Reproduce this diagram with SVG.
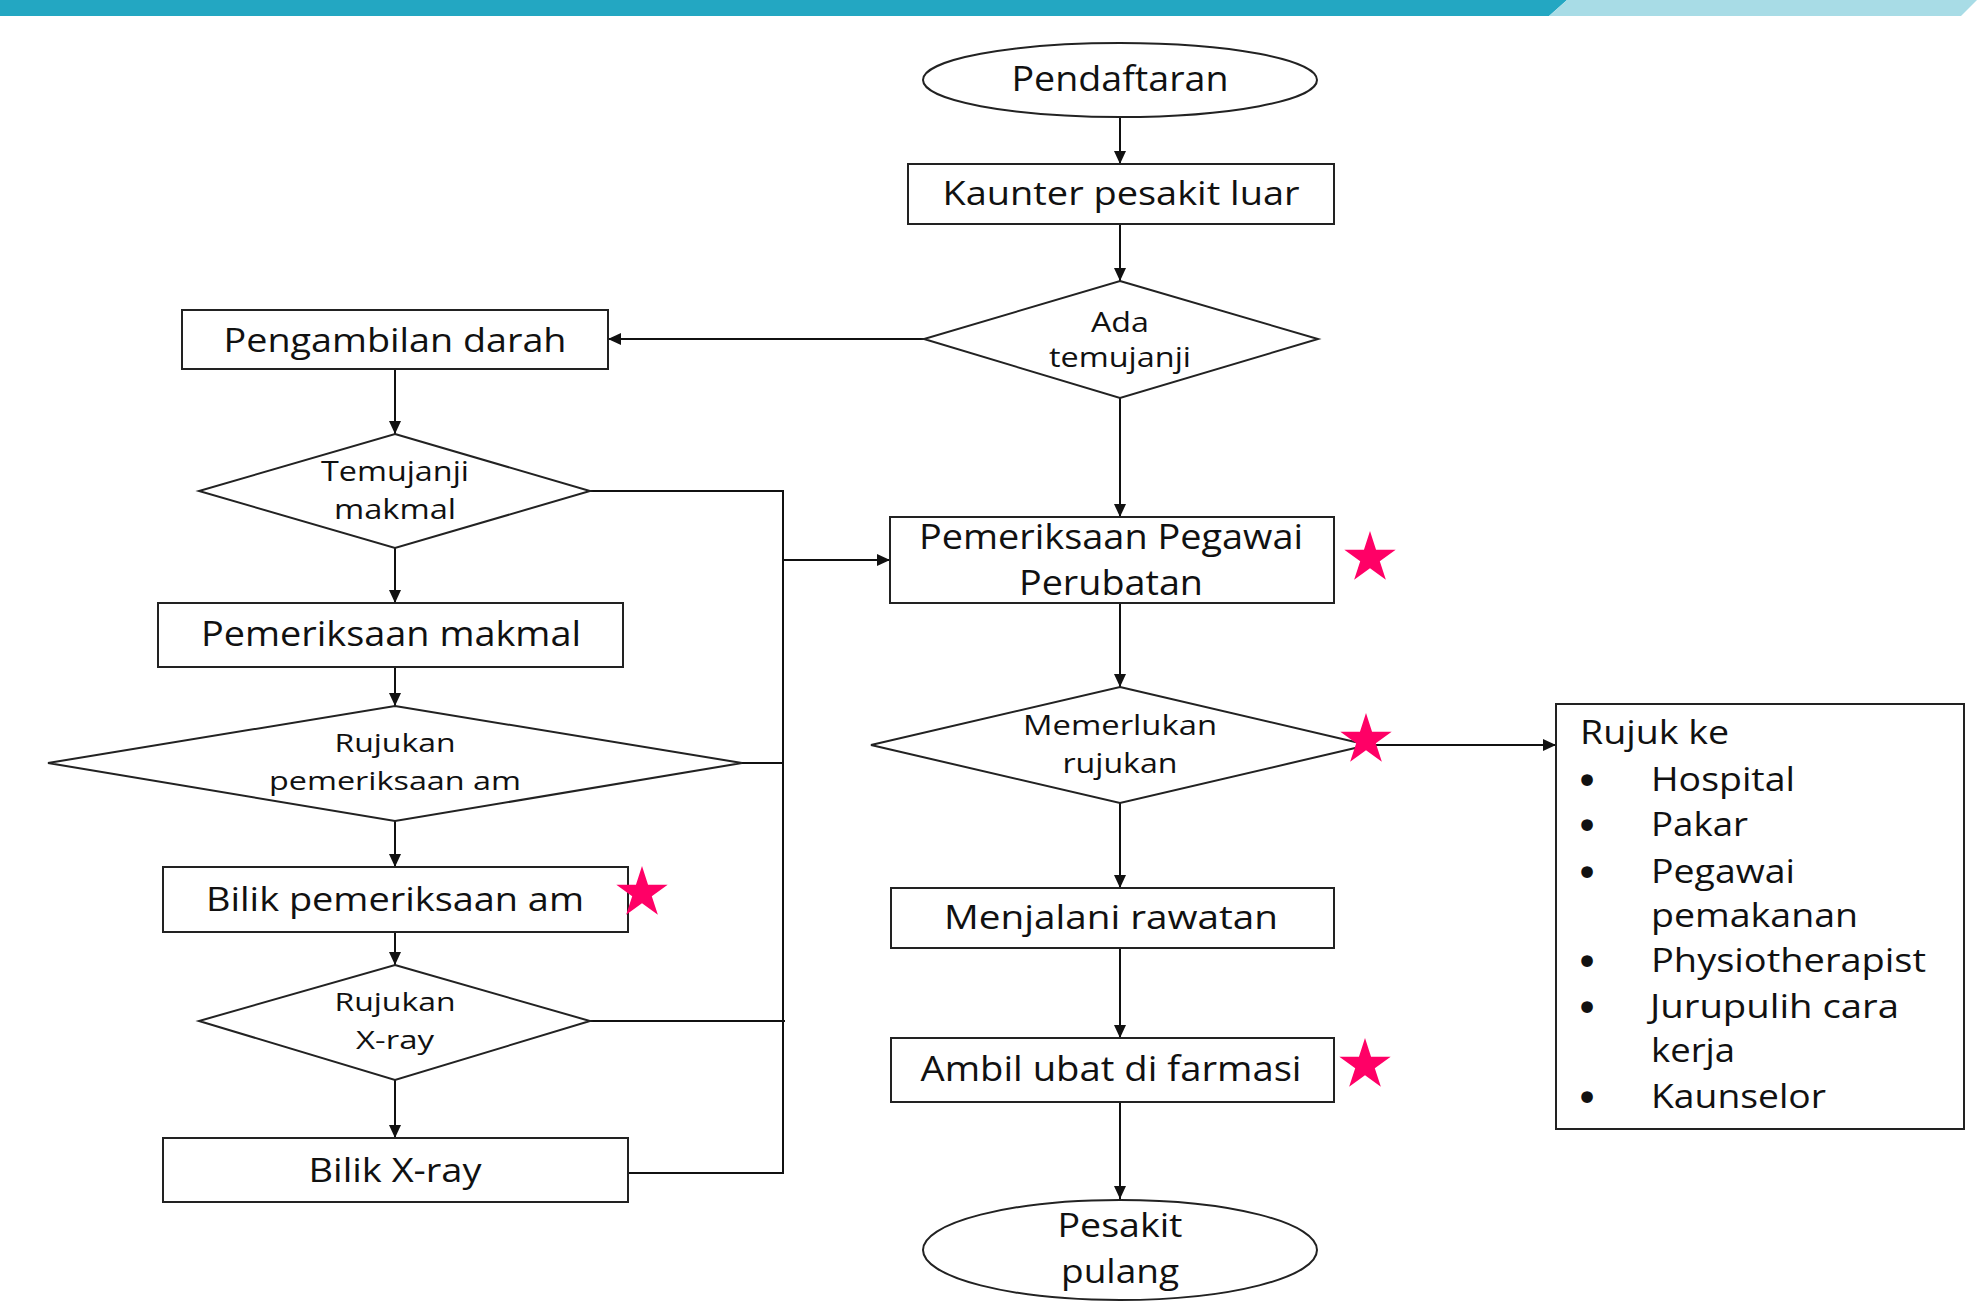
<svg xmlns="http://www.w3.org/2000/svg" xmlns:xlink="http://www.w3.org/1999/xlink" width="1977" height="1303" viewBox="0 0 1977 1303">
<style>
.shape{fill:#fff;stroke:#222;stroke-width:2}
.conn{fill:none;stroke:#111;stroke-width:2}
.t{font-family:"Open Sans","Noto Sans","DejaVu Sans",sans-serif;fill:#111;text-anchor:middle}
.tl{font-family:"Open Sans","Noto Sans","DejaVu Sans",sans-serif;fill:#111}
.b{font-family:"DejaVu Sans","Open Sans",sans-serif;fill:#111;text-anchor:middle;font-size:40px}
.star{fill:#FF0066}
</style>
<defs>
<marker id="ah" markerUnits="userSpaceOnUse" markerWidth="13" markerHeight="12" refX="13" refY="6" orient="auto">
<path d="M0,0 L13,6 L0,12 z" fill="#111"/>
</marker>
<polygon id="star" class="star" points="0,-27 6.05,-8.33 25.68,-8.34 9.8,3.18 15.87,21.84 0,10.3 -15.87,21.84 -9.8,3.18 -25.68,-8.34 -6.05,-8.33"/>
</defs>
<rect width="1977" height="1303" fill="#fff"/>
<g id="topbar">
<polygon points="0,0 1567,0 1549,16 0,16" fill="#23A7C2"/>
<polygon points="1567,0 1977,0 1961,16 1549,16" fill="#A8DCE6"/>
</g>
<g id="connectors">
<line class="conn" x1="1120" y1="117" x2="1120" y2="164" marker-end="url(#ah)"/>
<line class="conn" x1="1120" y1="224" x2="1120" y2="281" marker-end="url(#ah)"/>
<line class="conn" x1="924" y1="339" x2="608" y2="339" marker-end="url(#ah)"/>
<line class="conn" x1="1120" y1="398" x2="1120" y2="517" marker-end="url(#ah)"/>
<line class="conn" x1="395" y1="369" x2="395" y2="434" marker-end="url(#ah)"/>
<line class="conn" x1="395" y1="548" x2="395" y2="603" marker-end="url(#ah)"/>
<line class="conn" x1="395" y1="667" x2="395" y2="706" marker-end="url(#ah)"/>
<line class="conn" x1="395" y1="821" x2="395" y2="867" marker-end="url(#ah)"/>
<line class="conn" x1="395" y1="932" x2="395" y2="965" marker-end="url(#ah)"/>
<line class="conn" x1="395" y1="1080" x2="395" y2="1138" marker-end="url(#ah)"/>
<polyline class="conn" points="590,491 783,491 783,1173 628,1173"/>
<line class="conn" x1="742" y1="763" x2="783" y2="763"/>
<line class="conn" x1="590" y1="1021" x2="785" y2="1021"/>
<line class="conn" x1="783" y1="560" x2="890" y2="560" marker-end="url(#ah)"/>
<line class="conn" x1="1120" y1="603" x2="1120" y2="687" marker-end="url(#ah)"/>
<line class="conn" x1="1368" y1="745" x2="1556" y2="745" marker-end="url(#ah)"/>
<line class="conn" x1="1120" y1="803" x2="1120" y2="888" marker-end="url(#ah)"/>
<line class="conn" x1="1120" y1="948" x2="1120" y2="1038" marker-end="url(#ah)"/>
<line class="conn" x1="1120" y1="1102" x2="1120" y2="1199" marker-end="url(#ah)"/>
</g>
<g id="pendaftaran">
<ellipse class="shape" cx="1120" cy="80" rx="197" ry="37"/>
<text class="t" x="1120" y="91" font-size="35" textLength="217" lengthAdjust="spacingAndGlyphs">Pendaftaran</text>
</g>
<g id="kaunter">
<rect class="shape" x="908" y="164" width="426" height="60"/>
<text class="t" x="1121" y="205" font-size="33" textLength="357" lengthAdjust="spacingAndGlyphs">Kaunter pesakit luar</text>
</g>
<g id="ada-temujanji">
<polygon class="shape" points="1120,281 1318,339 1120,398 924,339"/>
<text class="t" x="1120" y="332" font-size="28" textLength="58" lengthAdjust="spacingAndGlyphs">Ada</text>
<text class="t" x="1120" y="367" font-size="28" textLength="142" lengthAdjust="spacingAndGlyphs">temujanji</text>
</g>
<g id="pengambilan-darah">
<rect class="shape" x="182" y="310" width="426" height="59"/>
<text class="t" x="395" y="352" font-size="33" textLength="343" lengthAdjust="spacingAndGlyphs">Pengambilan darah</text>
</g>
<g id="temujanji-makmal">
<polygon class="shape" points="395,434 590,491 395,548 199,491"/>
<text class="t" x="395" y="481" font-size="27" textLength="148" lengthAdjust="spacingAndGlyphs">Temujanji</text>
<text class="t" x="395" y="519" font-size="27" textLength="122" lengthAdjust="spacingAndGlyphs">makmal</text>
</g>
<g id="pemeriksaan-makmal">
<rect class="shape" x="158" y="603" width="465" height="64"/>
<text class="t" x="391" y="646" font-size="34" textLength="380" lengthAdjust="spacingAndGlyphs">Pemeriksaan makmal</text>
</g>
<g id="rujukan-pemeriksaan-am">
<polygon class="shape" points="395,706 742,763 395,821 48,763"/>
<text class="t" x="395" y="752" font-size="26" textLength="121" lengthAdjust="spacingAndGlyphs">Rujukan</text>
<text class="t" x="395" y="790" font-size="26" textLength="252" lengthAdjust="spacingAndGlyphs">pemeriksaan am</text>
</g>
<g id="bilik-pemeriksaan-am">
<rect class="shape" x="163" y="867" width="465" height="65"/>
<text class="t" x="395" y="911" font-size="33" textLength="378" lengthAdjust="spacingAndGlyphs">Bilik pemeriksaan am</text>
<use xlink:href="#star" x="642" y="893"/>
</g>
<g id="rujukan-xray">
<polygon class="shape" points="395,965 590,1021 395,1080 199,1021"/>
<text class="t" x="395" y="1011" font-size="26" textLength="121" lengthAdjust="spacingAndGlyphs">Rujukan</text>
<text class="t" x="395" y="1049" font-size="26" textLength="78" lengthAdjust="spacingAndGlyphs">X-ray</text>
</g>
<g id="bilik-xray">
<rect class="shape" x="163" y="1138" width="465" height="64"/>
<text class="t" x="395" y="1182" font-size="33" textLength="173" lengthAdjust="spacingAndGlyphs">Bilik X-ray</text>
</g>
<g id="pemeriksaan-pegawai">
<rect class="shape" x="890" y="517" width="444" height="86"/>
<text class="t" x="1111" y="549" font-size="34" textLength="384" lengthAdjust="spacingAndGlyphs">Pemeriksaan Pegawai</text>
<text class="t" x="1111" y="595" font-size="34" textLength="184" lengthAdjust="spacingAndGlyphs">Perubatan</text>
<use xlink:href="#star" x="1370" y="558"/>
</g>
<g id="memerlukan-rujukan">
<polygon class="shape" points="1120,687 1368,745 1120,803 871,745"/>
<text class="t" x="1120" y="735" font-size="27" textLength="194" lengthAdjust="spacingAndGlyphs">Memerlukan</text>
<text class="t" x="1120" y="773" font-size="27" textLength="115" lengthAdjust="spacingAndGlyphs">rujukan</text>
<use xlink:href="#star" x="1366" y="740"/>
</g>
<g id="rujuk-ke">
<rect class="shape" x="1556" y="704" width="408" height="425"/>
<text class="tl" x="1580" y="744" font-size="33" textLength="149" lengthAdjust="spacingAndGlyphs">Rujuk ke</text>
<text class="b" x="1587" y="795">•</text>
<text class="tl" x="1651" y="791" font-size="33" textLength="144" lengthAdjust="spacingAndGlyphs">Hospital</text>
<text class="b" x="1587" y="840">•</text>
<text class="tl" x="1651" y="836" font-size="33" textLength="97" lengthAdjust="spacingAndGlyphs">Pakar</text>
<text class="b" x="1587" y="887">•</text>
<text class="tl" x="1651" y="883" font-size="33" textLength="144" lengthAdjust="spacingAndGlyphs">Pegawai</text>
<text class="tl" x="1651" y="927" font-size="33" textLength="207" lengthAdjust="spacingAndGlyphs">pemakanan</text>
<text class="b" x="1587" y="976">•</text>
<text class="tl" x="1651" y="972" font-size="33" textLength="275" lengthAdjust="spacingAndGlyphs">Physiotherapist</text>
<text class="b" x="1587" y="1022">•</text>
<text class="tl" x="1650" y="1018" font-size="33" textLength="249" lengthAdjust="spacingAndGlyphs">Jurupulih cara</text>
<text class="tl" x="1651" y="1062" font-size="33" textLength="84" lengthAdjust="spacingAndGlyphs">kerja</text>
<text class="b" x="1587" y="1112">•</text>
<text class="tl" x="1651" y="1108" font-size="33" textLength="175" lengthAdjust="spacingAndGlyphs">Kaunselor</text>
</g>
<g id="menjalani-rawatan">
<rect class="shape" x="891" y="888" width="443" height="60"/>
<text class="t" x="1111" y="929" font-size="33" textLength="334" lengthAdjust="spacingAndGlyphs">Menjalani rawatan</text>
</g>
<g id="ambil-ubat">
<rect class="shape" x="891" y="1038" width="443" height="64"/>
<text class="t" x="1111" y="1081" font-size="34" textLength="381" lengthAdjust="spacingAndGlyphs">Ambil ubat di farmasi</text>
<use xlink:href="#star" x="1365" y="1065"/>
</g>
<g id="pesakit-pulang">
<ellipse class="shape" cx="1120" cy="1250" rx="197" ry="50"/>
<text class="t" x="1120" y="1237" font-size="32" textLength="125" lengthAdjust="spacingAndGlyphs">Pesakit</text>
<text class="t" x="1120" y="1283" font-size="32" textLength="118" lengthAdjust="spacingAndGlyphs">pulang</text>
</g>
</svg>
